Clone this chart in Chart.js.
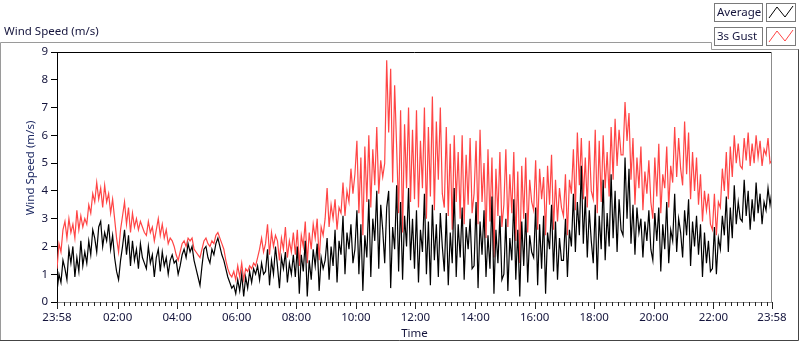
<!DOCTYPE html>
<html><head><meta charset="utf-8">
<script src="https://cdn.jsdelivr.net/npm/chart.js@4.4.1/dist/chart.umd.min.js"></script>
<style>html,body{margin:0;padding:0;background:#fff;overflow:hidden}canvas{display:block}</style>
</head><body>
<canvas id="c" width="800" height="342"></canvas>
<script>
const chartTitle = 'Wind Speed (m/s)';
const yAxisTitle = 'Wind Speed (m/s)';
const xAxisTitle = 'Time';
const seriesNames = ['Average', '3s Gust'];
const stepMinutes = 4;            // minutes between samples, starting 23:58
const totalMinutes = 1440;

// Average wind speed (m/s), one row per hour (15 samples), last row has the 23:58 endpoint
const avgSpeed = [
  0.4,1.0,0.7,1.5,1.2,0.8,1.9,1.4,2.0,0.9,1.6,1.1,2.2,1.3,1.8,
  1.4,2.2,1.7,2.6,2.3,1.8,2.7,2.9,2.0,2.5,2.2,2.8,1.9,2.4,1.6,
  1.1,0.8,1.5,2.0,2.6,1.7,2.4,1.3,2.2,1.5,1.9,1.2,2.1,1.6,1.4,
  1.2,2.0,1.4,1.7,0.9,1.6,1.9,1.1,1.8,1.3,1.6,1.0,1.5,1.7,1.4,
  1.5,1.0,1.3,1.7,1.9,1.6,2.1,1.8,2.0,1.5,1.2,0.9,0.6,1.3,1.9,
  2.0,1.6,1.4,1.9,1.7,2.1,2.3,2.0,1.7,1.5,1.2,0.9,0.7,0.5,0.6,
  0.3,0.8,0.4,1.0,0.2,0.9,0.5,1.1,0.7,1.2,1.0,1.3,0.8,1.4,1.0,
  1.1,1.9,0.6,1.5,1.0,2.0,1.3,0.5,1.6,1.2,1.8,0.7,1.4,1.0,1.7,
  0.9,2.0,0.3,1.7,1.1,2.2,0.2,1.5,0.8,1.9,1.3,2.1,0.4,1.6,1.2,
  1.5,2.3,0.8,2.0,1.3,2.6,0.7,2.2,1.7,3.1,1.0,2.5,1.9,2.8,1.4,
  1.9,3.3,1.0,2.8,0.4,2.4,1.6,3.7,0.9,3.0,2.2,4.0,1.2,3.5,2.6,
  1.4,3.4,4.0,0.5,2.7,1.9,4.2,1.1,3.6,0.8,3.1,2.0,4.1,1.5,3.0,
  1.2,3.3,0.7,2.6,1.8,3.9,1.0,2.9,0.6,3.5,1.5,2.8,0.9,3.2,2.0,
  1.1,3.2,0.6,2.5,1.4,4.1,0.9,2.8,1.6,3.4,0.8,2.7,1.9,3.0,1.2,
  1.3,3.6,0.5,2.9,1.7,3.3,0.9,2.4,1.2,3.8,0.3,2.6,1.4,3.1,0.8,
  1.0,3.0,0.4,2.3,1.5,3.7,0.8,2.6,0.2,2.9,1.3,3.2,0.7,2.4,1.8,
  1.6,3.4,0.6,2.8,1.2,3.1,0.3,2.5,1.9,3.5,1.1,2.9,0.8,2.3,1.5,
  1.5,3.0,0.9,2.6,2.0,3.9,1.8,3.6,2.4,4.9,2.1,3.8,1.6,3.3,2.2,
  1.4,3.5,0.8,3.1,1.9,4.4,1.5,3.2,2.0,4.6,2.3,4.0,1.8,3.7,2.6,
  2.4,5.2,3.0,4.8,2.1,3.5,1.7,3.4,2.5,3.0,1.6,2.9,2.2,3.3,1.9,
  1.5,3.2,2.2,3.4,1.1,2.8,1.9,3.6,1.4,2.6,2.2,3.9,1.8,3.0,2.5,
  1.6,3.3,2.4,3.7,1.3,2.9,2.0,3.1,1.7,2.8,0.9,2.5,1.4,2.2,1.1,
  1.2,2.7,1.0,2.3,1.9,3.1,2.4,3.8,1.8,3.4,2.3,4.2,2.8,3.6,3.0,
  2.9,4.4,3.1,4.0,2.6,3.7,2.9,4.3,3.2,3.9,2.8,3.6,3.3,4.1,3.5,4.0
];

// 3 s gust wind speed (m/s)
const gustSpeed = [
  1.2,2.1,1.8,2.6,2.9,2.3,3.0,2.5,2.8,2.3,3.3,2.6,3.1,2.7,3.0,
  2.8,3.5,3.2,3.9,3.6,4.3,3.7,4.1,3.4,4.2,3.6,3.9,3.2,3.7,3.0,
  2.3,1.8,2.6,3.1,3.6,2.8,3.4,2.5,3.2,2.7,3.0,2.6,2.9,2.7,2.5,
  2.4,2.9,2.5,2.7,2.2,2.6,3.0,2.4,2.8,2.3,2.6,2.1,2.3,2.2,2.0,
  1.7,1.5,1.8,2.1,2.2,2.0,2.3,2.2,2.3,1.9,1.8,1.7,1.6,1.9,2.2,
  2.3,2.1,2.0,2.2,2.1,2.4,2.5,2.3,2.1,1.9,1.5,1.2,1.0,0.9,1.1,
  0.8,1.3,0.9,1.4,0.8,1.2,1.1,1.3,1.2,1.4,1.3,1.6,1.9,2.3,1.8,
  2.1,2.8,1.7,2.5,2.0,2.4,2.2,1.5,2.3,1.9,2.7,1.6,2.2,1.8,2.5,
  1.7,2.6,1.3,2.4,2.0,2.9,1.4,2.5,1.9,2.8,2.3,3.0,1.5,2.7,2.4,
  3.0,4.1,2.7,3.5,3.0,3.7,2.6,3.4,3.2,4.3,3.1,4.0,3.6,4.8,3.9,
  4.6,5.8,3.2,5.2,2.4,5.6,3.6,6.0,3.4,5.5,4.2,6.3,3.9,5.1,4.5,
  5.0,8.7,6.1,8.4,4.3,7.8,5.6,3.2,6.9,2.5,6.4,4.1,7.0,3.6,6.2,
  3.7,6.9,3.4,5.8,4.1,7.0,3.0,6.3,3.8,7.4,3.3,6.5,4.4,7.0,3.9,
  3.4,6.3,3.1,5.7,2.6,6.0,3.6,5.4,3.0,6.0,2.8,5.3,3.5,5.9,3.2,
  3.9,5.8,2.8,6.2,3.6,5.0,2.3,5.5,2.9,5.2,1.6,4.8,3.1,5.4,2.7,
  3.5,5.5,2.7,4.6,3.2,5.4,2.2,4.7,1.4,4.9,3.0,5.2,2.5,4.4,3.6,
  3.3,5.1,2.6,4.8,3.7,4.5,2.4,4.9,3.5,5.3,2.6,4.4,2.9,4.1,3.4,
  3.1,4.6,2.4,4.4,3.9,5.5,3.3,6.1,4.2,5.9,3.7,5.2,3.4,5.8,4.0,
  3.7,6.2,3.2,5.8,3.6,6.0,4.1,5.4,3.8,6.3,4.4,6.6,4.9,6.2,5.3,
  5.3,7.2,5.8,6.8,4.4,5.9,3.5,5.2,4.1,5.6,3.3,4.7,3.9,5.1,3.6,
  3.0,5.2,3.8,5.7,3.2,4.6,4.1,5.6,3.4,4.9,4.3,6.3,4.5,5.9,4.8,
  4.2,6.5,4.6,6.1,3.7,5.4,4.0,5.2,3.5,4.6,2.9,4.0,3.3,3.9,2.8,
  2.6,3.9,2.4,3.6,3.4,4.8,4.0,5.4,3.7,5.6,4.5,6.0,5.0,5.7,4.9,
  4.8,5.9,5.1,6.1,4.9,5.7,5.0,6.0,5.2,5.8,4.9,5.5,5.3,5.9,5.0,5.1
];

const yTickValues = [0,1,2,3,4,5,6,7,8,9];
const xMajorMinutes = [0,122,242,362,482,602,722,842,962,1082,1202,1322,1440];
const xTickLabels = ['23:58','02:00','04:00','06:00','08:00','10:00','12:00','14:00','16:00','18:00','20:00','22:00','23:58'];
const minorStep = 12;

const FONT = '"Noto Sans", "Open Sans", sans-serif';
const FSIZE = 11.5;
const TEXT = '#14143c';

const toPoints = arr => arr.map((v, i) => ({x: i * stepMinutes, y: v}));

const xTickSet = [];
xMajorMinutes.forEach(m => xTickSet.push(m));
for (let m = 14; m < totalMinutes; m += minorStep) { if (!xMajorMinutes.includes(m)) xTickSet.push(m); }
xTickSet.sort((a, b) => a - b);

const decor = {
  id: 'decor',
  afterDraw(chart) {
    const ctx = chart.ctx, a = chart.chartArea, xs = chart.scales.x;
    ctx.save();
    ctx.lineWidth = 1;
    ctx.strokeStyle = '#000';
    ctx.beginPath(); ctx.moveTo(a.left, a.top + 0.5); ctx.lineTo(a.right, a.top + 0.5); ctx.stroke();
    ctx.strokeStyle = '#8c8c8c';
    ctx.beginPath(); ctx.moveTo(a.right - 0.5, a.top); ctx.lineTo(a.right - 0.5, a.bottom); ctx.stroke();
    ctx.strokeStyle = '#222';
    xs.ticks.forEach(t => {
      const px = Math.round(xs.getPixelForValue(t.value)) + 0.5;
      const major = xMajorMinutes.includes(t.value);
      ctx.beginPath(); ctx.moveTo(px, a.bottom); ctx.lineTo(px, a.bottom + (major ? 7 : 4)); ctx.stroke();
    });
    ctx.strokeStyle = '#9a9a9a';
    ctx.beginPath();
    ctx.moveTo(0.5, 340); ctx.lineTo(0.5, 42.5); ctx.lineTo(711.5, 42.5); ctx.lineTo(711.5, 49.5); ctx.lineTo(799, 49.5);
    ctx.stroke();
    ctx.strokeStyle = '#444';
    ctx.beginPath(); ctx.moveTo(0, 340.5); ctx.lineTo(798.5, 340.5); ctx.lineTo(798.5, 49.5); ctx.stroke();
    ctx.save();
    ctx.translate(31, 168); ctx.rotate(-Math.PI / 2);
    ctx.fillStyle = '#1e2a64'; ctx.font = FSIZE + 'px ' + FONT;
    ctx.textAlign = 'center'; ctx.textBaseline = 'middle';
    ctx.fillText(yAxisTitle, 0, 0);
    ctx.restore();
    chart.data.datasets.forEach((ds, i) => {
      const y0 = 3 + i * 24, h = 18;
      ctx.strokeStyle = '#7a7a7a';
      ctx.strokeRect(714.5, y0 + 0.5, 48, h);
      ctx.strokeRect(766.5, y0 + 0.5, 29, h);
      ctx.fillStyle = TEXT; ctx.font = FSIZE + 'px ' + FONT;
      ctx.textAlign = 'left'; ctx.textBaseline = 'middle';
      ctx.fillText(ds.label, 717, y0 + h / 2 + 1);
      ctx.strokeStyle = ds.borderColor;
      ctx.beginPath();
      ctx.moveTo(769, y0 + 15); ctx.lineTo(777, y0 + 4); ctx.lineTo(785, y0 + 14); ctx.lineTo(793, y0 + 3);
      ctx.stroke();
    });
    ctx.restore();
  }
};

new Chart(document.getElementById('c'), {
  type: 'line',
  data: {
    datasets: [
      {label: seriesNames[0], data: toPoints(avgSpeed), borderColor: '#000000', borderWidth: 1.2, pointRadius: 0, tension: 0, fill: false},
      {label: seriesNames[1], data: toPoints(gustSpeed), borderColor: '#ff4545', borderWidth: 1.2, pointRadius: 0, tension: 0, fill: false}
    ]
  },
  options: {
    responsive: false,
    animation: false,
    events: [],
    layout: {padding: {left: 4, right: 28, top: 0, bottom: 0}},
    plugins: {
      legend: {display: false},
      tooltip: {enabled: false},
      title: {display: true, text: chartTitle, align: 'start', color: TEXT,
        font: {family: FONT, size: FSIZE, weight: 'normal'}, padding: {top: 25, bottom: 13.2}}
    },
    scales: {
      x: {
        type: 'linear', min: 0, max: totalMinutes,
        afterFit(s) { s.height = 40; },
        afterBuildTicks(s) { s.ticks = xTickSet.map(v => ({value: v})); },
        border: {display: true, color: '#8c8c8c'},
        grid: {display: true, drawOnChartArea: false, drawTicks: false},
        ticks: {autoSkip: false, maxRotation: 0, padding: 9, color: TEXT, font: {family: FONT, size: FSIZE},
          callback(v) { const k = xMajorMinutes.indexOf(v); return k >= 0 ? xTickLabels[k] : ''; }},
        title: {display: true, text: xAxisTitle, color: TEXT, font: {family: FONT, size: FSIZE}, padding: {top: 0, bottom: 1}}
      },
      y: {
        min: 0, max: 9,
        afterFit(s) { s.width = 53; },
        afterBuildTicks(s) { s.ticks = yTickValues.map(v => ({value: v})); },
        border: {display: true, color: '#000'},
        grid: {display: true, drawOnChartArea: false, drawTicks: true, tickLength: 6, color: '#000'},
        ticks: {padding: 3, color: TEXT, font: {family: FONT, size: FSIZE}}
      }
    }
  },
  plugins: [decor]
});
</script>
</body></html>
